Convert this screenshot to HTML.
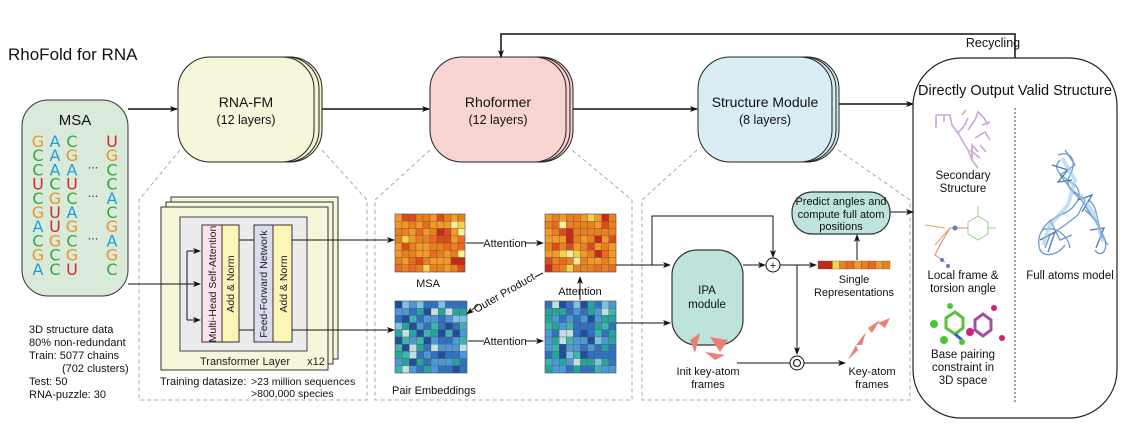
<!DOCTYPE html>
<html><head><meta charset="utf-8"><style>
html,body{margin:0;padding:0;background:#fff;}
svg{display:block;font-family:"Liberation Sans",Arial,sans-serif;}
</style></head><body>
<svg id="s" width="1135" height="430" viewBox="0 0 1135 430" xmlns="http://www.w3.org/2000/svg">
<defs>
<marker id="a" markerWidth="8" markerHeight="8" refX="7" refY="4" orient="auto" markerUnits="userSpaceOnUse"><path d="M0,1 L8,4 L0,7 L2,4z" fill="#111"/></marker>
</defs>
<text x="8" y="60" font-size="17" fill="#111">RhoFold for RNA</text>

<g fill="none" stroke="#aaa" stroke-dasharray="4,3" stroke-width="1">
<path d="M180,150 L139,200 L139,400 L367,400 L367,200 L322,150"/>
<path d="M430,150 L375,200 L375,400 L632,400 L632,200 L572,150"/>
<path d="M697,150 L642,200 L642,400 L910,400 L910,200 L838,150"/>
</g>

<rect x="22" y="100" width="106" height="196" rx="26" fill="#d9eadb" stroke="#333" stroke-width="1"/>
<text x="75" y="125" font-size="15" text-anchor="middle" fill="#111">MSA</text>
<g id="msa" font-size="16" font-family="'DejaVu Sans',sans-serif" text-anchor="middle"></g>

<g stroke="#222" stroke-width="1">
<rect x="186" y="57" width="136" height="105" rx="32" fill="#f4f4d4"/>
<rect x="183" y="57" width="136" height="105" rx="32" fill="#f4f4d4"/>
<rect x="178" y="57" width="136" height="105" rx="32" fill="#f6f6da"/>
<rect x="437" y="57" width="136" height="105" rx="32" fill="#f6d0ce"/>
<rect x="434" y="57" width="136" height="105" rx="32" fill="#f6d0ce"/>
<rect x="430" y="57" width="136" height="105" rx="32" fill="#f8d5d3"/>
<rect x="705" y="57" width="134" height="105" rx="32" fill="#d3eaf0"/>
<rect x="702" y="57" width="134" height="105" rx="32" fill="#d3eaf0"/>
<rect x="698" y="57" width="134" height="105" rx="32" fill="#d8eef4"/>
</g>
<g font-size="14" text-anchor="middle" fill="#111">
<text x="246" y="107">RNA-FM</text><text x="246" y="124" font-size="12.5">(12 layers)</text>
<text x="498" y="107">Rhoformer</text><text x="498" y="124" font-size="12.5">(12 layers)</text>
<text x="765" y="107">Structure Module</text><text x="765" y="124" font-size="12.5">(8 layers)</text>
</g>

<g stroke="#111" stroke-width="1.5" fill="none" marker-end="url(#a)">
<path d="M128,109 L177,109"/>
<path d="M322,109 L429,109"/>
<path d="M573,109 L697,109"/>
<path d="M839,104 L913,104"/>
<path d="M1015,58 L1015,34 L501,34 L501,57"/>
</g>
<text x="993" y="47" font-size="12.5" text-anchor="middle" fill="#111">Recycling</text>

<rect x="913" y="58" width="204" height="360" rx="48" fill="#fff" stroke="#222" stroke-width="1.2"/>
<text x="1015" y="95" font-size="14.5" text-anchor="middle" fill="#111">Directly Output Valid Structure</text>
<line x1="1015" y1="108" x2="1015" y2="402" stroke="#444" stroke-dasharray="2,2"/>
<g font-size="11.5" text-anchor="middle" fill="#111">
<text x="963" y="179">Secondary</text><text x="963" y="192">Structure</text>
<text x="963" y="279">Local frame &amp;</text><text x="963" y="292">torsion angle</text>
<text x="963" y="358">Base pairing</text><text x="963" y="371">constraint in</text><text x="963" y="384">3D space</text>
<text x="1070" y="279">Full atoms model</text>
</g>
<g stroke="#c9a5d8" stroke-width="1.6" fill="none">
<path d="M936,115 L936,128 M936,115 L950,115 L952,125 L958,133 L962,140 L968,150 L972,160 L972,145 L978,152 M958,133 L965,125 L968,118 M968,130 L975,120 L978,112 L984,118 L988,125 M975,138 L985,132 L990,140 M972,160 L978,168 M980,145 L986,152 M944,115 L944,122 M962,115 L966,110 M982,125 L990,122 M970,150 L980,158"/>
</g>
<g fill="none" stroke-width="1">
<polygon points="968,222 978,216 988,222 988,234 978,240 968,234" stroke="#9cd08c"/>
<path d="M968,228 L950,228 L940,245 L935,255 L945,262" stroke="#e08070"/>
<path d="M950,228 L935,245 M945,228 L925,225" stroke="#e0a070"/>
<path d="M978,216 L978,206 M988,228 L996,228" stroke="#9cd08c"/>
</g>
<circle cx="955" cy="228" r="2.5" fill="#6080c0"/><circle cx="942" cy="260" r="2" fill="#6080c0"/><circle cx="948" cy="266" r="2" fill="#6080c0"/>
<g fill="none" stroke-width="3">
<polygon points="946,318 955,312 963,318 963,328 955,334 946,328" stroke="#5bbf3a"/>
<polygon points="975,320 983,314 991,320 991,330 983,336 975,330" stroke="#a050a0"/>
<path d="M955,334 L962,340" stroke="#3060d0"/>
</g>
<g fill="#4cc43a"><circle cx="934" cy="324" r="4"/><circle cx="950" cy="306" r="3"/><circle cx="944" cy="340" r="4"/><circle cx="962" cy="342" r="3"/></g>
<g fill="#d0207a"><circle cx="970" cy="332" r="4"/><circle cx="994" cy="308" r="3"/><circle cx="1002" cy="338" r="3"/></g>
<g fill="none" stroke="#5a8fc8" stroke-width="1.3" opacity="0.9">
<path d="M1058,155 C1070,150 1078,160 1070,175 C1062,190 1080,195 1085,205 C1090,215 1100,225 1105,240 C1108,252 1100,258 1095,250"/>
<path d="M1060,160 C1050,170 1065,178 1075,185 C1085,195 1075,210 1060,215 C1045,222 1035,235 1040,250 C1045,258 1058,255 1065,245"/>
<path d="M1065,150 L1075,165 L1060,175 L1072,190 L1085,200 L1078,215 L1065,225 L1050,235 L1045,248 M1085,210 L1098,222 L1102,238 M1050,220 L1060,240 L1072,235"/>
<path d="M1042,230 C1055,225 1068,235 1070,248 M1088,200 C1100,205 1095,230 1108,245"/>
<path d="M1052,165 L1068,170 L1058,182 L1072,180 M1040,240 L1055,232 L1048,252 M1090,230 L1104,228 L1096,248 M1078,200 L1092,195 L1082,212" stroke="#3a6aa8"/>
</g>
<g fill="none" stroke="#9fc8ea" stroke-width="4" opacity="0.6">
<path d="M1062,158 L1075,180 L1068,205 L1050,225 L1043,245 M1080,195 L1095,215 L1103,242"/>
</g>

<rect x="171" y="197" width="167" height="162" fill="#f6f6da" stroke="#333" stroke-width="1"/>
<rect x="166" y="202" width="167" height="162" fill="#f6f6da" stroke="#333" stroke-width="1"/>
<rect x="161" y="207" width="167" height="163" fill="#f6f6da" stroke="#333" stroke-width="1"/>
<rect x="180" y="217" width="127" height="134" fill="#ebebeb" stroke="#444" stroke-width="1"/>
<rect x="202" y="225" width="20" height="117" fill="#fbe3ee" stroke="#333"/>
<rect x="222" y="225" width="17" height="117" fill="#fbf5b8" stroke="#333"/>
<rect x="254" y="225" width="19" height="117" fill="#dcdcef" stroke="#333"/>
<rect x="273" y="225" width="19" height="117" fill="#fbf5b8" stroke="#333"/>
<g font-size="10.5" fill="#222" text-anchor="middle" xml:space="preserve">
<text transform="translate(216,284) rotate(-90)">Multi-Head Self-Attention</text>
<text transform="translate(234,284) rotate(-90)">Add     &amp;     Norm</text>
<text transform="translate(267,284) rotate(-90)">Feed-Forward Network</text>
<text transform="translate(287,284) rotate(-90)">Add     &amp;     Norm</text>
</g>
<text x="245" y="365" font-size="11" text-anchor="middle" fill="#222">Transformer Layer</text>
<text x="316" y="365" font-size="11" text-anchor="middle" fill="#222">x12</text>
<g font-size="11" fill="#111">
<text x="160" y="385">Training datasize:</text>
<text x="251" y="385" font-size="10.5">&gt;23 million sequences</text>
<text x="251" y="397" font-size="10.5">&gt;800,000 species</text>
</g>
<g font-size="11" fill="#111">
<text x="29" y="333">3D structure data</text>
<text x="29" y="346">80% non-redundant</text>
<text x="29" y="359">Train: 5077 chains</text>
<text x="62" y="372">(702 clusters)</text>
<text x="29" y="385">Test: 50</text>
<text x="29" y="398">RNA-puzzle: 30</text>
</g>
<g stroke="#111" stroke-width="1" fill="none">
<path d="M128,284 L200,284" marker-end="url(#a)"/>
<path d="M187,251 L187,320"/>
<path d="M187,251 L200,251" marker-end="url(#a)"/>
<path d="M187,320 L200,320" marker-end="url(#a)"/>
<path d="M239,240 L254,240 M292,240 L393,240" />
<path d="M239,330 L254,330 M292,330 L393,330"/>
</g>
<path d="M386,240 L394,240" stroke="#111" marker-end="url(#a)"/>
<path d="M386,330 L394,330" stroke="#111" marker-end="url(#a)"/>

<g id="hm"></g>
<text x="428" y="287" font-size="11" text-anchor="middle" fill="#111">MSA</text>
<text x="392" y="394" font-size="11" fill="#111">Pair Embeddings</text>
<g stroke="#111" stroke-width="1" fill="none">
<path d="M466,243 L484,243 M525,243 L543,243" marker-end="url(#a)"/>
<path d="M468,341 L484,341 M525,341 L543,341" marker-end="url(#a)"/>
<path d="M580,300 L580,277" marker-end="url(#a)"/>
<path d="M543,273 L535,277 M478,305 L467,314" marker-end="url(#a)"/>
</g>
<text x="505" y="247" font-size="11" text-anchor="middle" fill="#111">Attention</text>
<text x="505" y="345" font-size="11" text-anchor="middle" fill="#111">Attention</text>
<text x="580" y="295" font-size="11" text-anchor="middle" fill="#111">Attention</text>
<text transform="translate(506,296) rotate(-30)" font-size="11" text-anchor="middle" fill="#111">Outer Product</text>

<g stroke="#111" stroke-width="1" fill="none">
<path d="M616,265 L670,265" marker-end="url(#a)"/>
<path d="M652,265 L652,216 L773,216 L773,257" marker-end="url(#a)"/>
<path d="M616,323 L670,323" marker-end="url(#a)"/>
<path d="M743,265 L765,265" marker-end="url(#a)"/>
<path d="M780,265 L816,265" marker-end="url(#a)"/>
<path d="M797,265 L797,354" marker-end="url(#a)"/>
<path d="M737,363 L790,363"/>
<path d="M804,363 L845,363" marker-end="url(#a)"/>
<path d="M857,260 L857,235" marker-end="url(#a)"/>
<path d="M890,212 L913,212" marker-end="url(#a)"/>
</g>
<rect x="672" y="250" width="71" height="95" rx="25" fill="#bde4dc" stroke="#333" stroke-width="1.2"/>
<text x="707" y="294" font-size="11.5" text-anchor="middle" fill="#111">IPA</text>
<text x="707" y="308" font-size="11.5" text-anchor="middle" fill="#111">module</text>
<circle cx="773" cy="265" r="7" fill="#fff" stroke="#111"/>
<text x="773" y="269" font-size="11" text-anchor="middle" fill="#111">+</text>
<circle cx="797" cy="363" r="7" fill="#fff" stroke="#111"/>
<circle cx="797" cy="363" r="3.5" fill="none" stroke="#111"/>
<rect x="792" y="192" width="98" height="42" rx="20" fill="#bde4dc" stroke="#333" stroke-width="1.2"/>
<g font-size="11" text-anchor="middle" fill="#111">
<text x="841" y="205">Predict angles and</text>
<text x="841" y="218">compute full atom</text>
<text x="841" y="230">positions</text>
<text x="854" y="283">Single</text><text x="854" y="296">Representations</text>
<text x="708" y="375">Init key-atom</text><text x="708" y="388">frames</text>
<text x="872" y="375">Key-atom</text><text x="872" y="388">frames</text>
</g>
<g id="bar"></g>
<g fill="#ee7d78">
<polygon points="690,340 700,333 695,353"/>
<polygon points="710,337 728,340 720,352"/>
<polygon points="705,352 725,355 715,360"/>
<polygon points="848,360 856,345 858,350"/>
<polygon points="856,345 866,332 862,345"/>
<polygon points="868,328 880,320 872,333"/>
<polygon points="878,323 890,318 885,328"/>
</g>
</svg>
<script>
var NS="http://www.w3.org/2000/svg",s=document.getElementById("s");
function el(p,t,a){var e=document.createElementNS(NS,t);for(var k in a)e.setAttribute(k,a[k]);p.appendChild(e);return e;}
var cols=["GCCUCGACGA","AAACGUUGCC","CGAUCAGCGU","UGCCACGAGC"],cx=[38,55,72,112];
var col={G:"#e8962a",C:"#35a83a",A:"#1f9fd0",U:"#d62728"};
var m=document.getElementById("msa");
for(var c=0;c<4;c++)for(var r=0;r<10;r++){var L=cols[c][r];var t=el(m,"text",{x:cx[c],y:147+r*14.2,fill:col[L]});t.textContent=L;}
[2,4,7].forEach(function(r){var t=el(m,"text",{x:93,y:143+r*14.2,fill:"#333","font-size":"11"});t.textContent="···";});
var seed=7;function rnd(){seed=(seed*9301+49297)%233280;return seed/233280;}
var warm=["#e8801f","#f09a2a","#d94d1a","#c62a1a","#f5d24a","#f7ef9a","#ea6a22"];
var warmW=[5,4,2,1.2,1.2,0.6,2];
var cool=["#2f72c2","#4a9ad8","#1f4e9e","#24a6a0","#bfe0e0","#7cc3e6","#3bb5b0"];
var coolW=[4,3,1.5,2.5,1.5,1,1.5];
function pick(a,w){var sum=0,i;for(i=0;i<w.length;i++)sum+=w[i];var x=rnd()*sum;for(i=0;i<w.length;i++){x-=w[i];if(x<=0)return a[i];}return a[0];}
var hm=document.getElementById("hm");
function heat(x,y,w,h,nc,nr,pal,pw){var cw=w/nc,ch=h/nr;for(var i=0;i<nc;i++)for(var j=0;j<nr;j++)el(hm,"rect",{x:x+i*cw,y:y+j*ch,width:cw,height:ch,fill:pick(pal,pw),stroke:"#6a4a3a","stroke-width":"0.3"});
 el(hm,"rect",{x:x,y:y,width:w,height:h,fill:"none",stroke:"#555","stroke-width":"0.5"});}
heat(395,214,70,58,10,8,warm,warmW);
heat(545,214,71,58,10,8,warm,warmW);
heat(395,301,72,72,10,10,cool,coolW);
heat(545,301,71,72,10,10,cool,coolW);
var b=document.getElementById("bar"),bc=["#c62a1a","#c62a1a","#f5d24a","#e8801f","#ea6a22","#f09a2a","#e8801f","#ea6a22","#f09a2a","#e8801f"];
for(var i=0;i<10;i++)el(b,"rect",{x:818+i*7.2,y:261,width:7.2,height:8,fill:bc[i],stroke:"#444","stroke-width":"0.3"});
</script>
</body></html>
